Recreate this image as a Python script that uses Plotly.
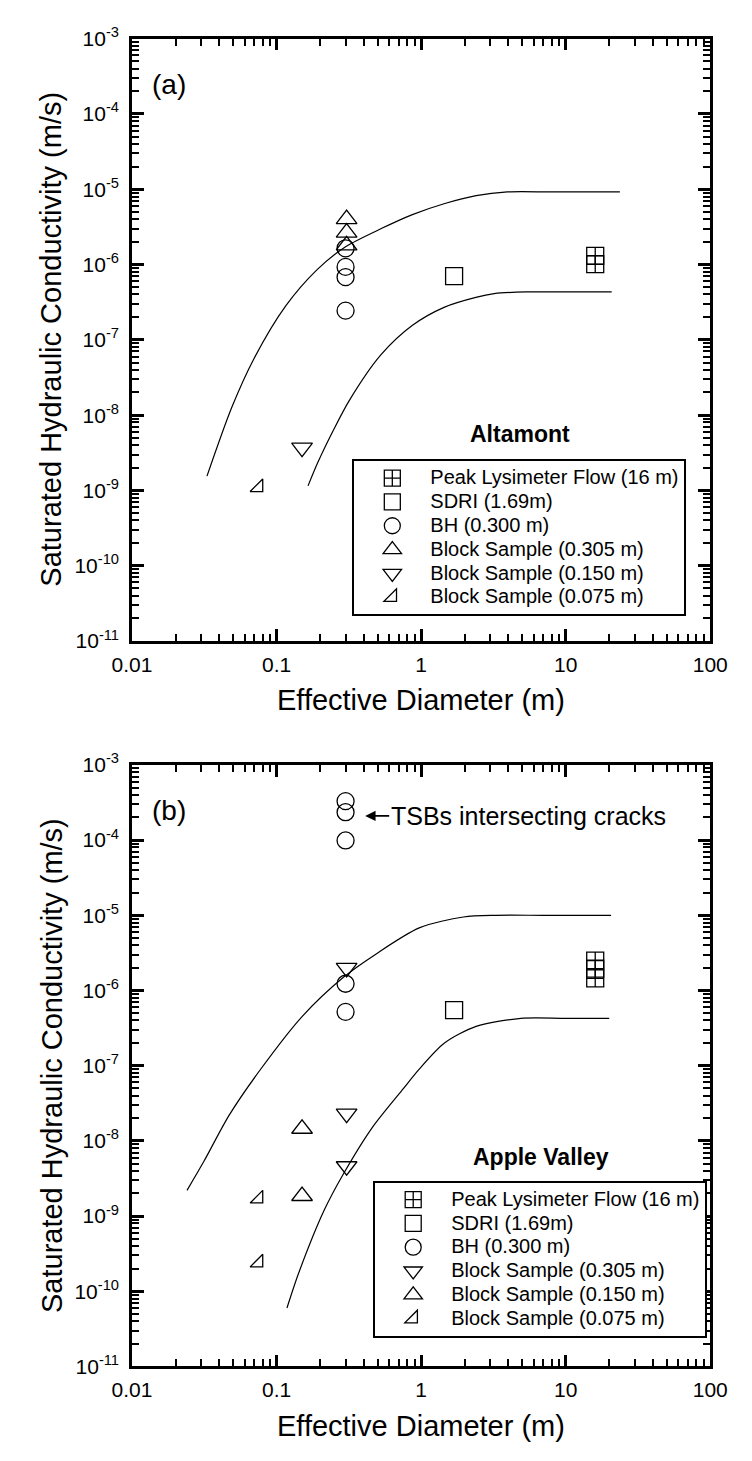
import numpy as np
import plotly.graph_objects as go

# ---------------- data ----------------
# Panel (a) Altamont
a_lys_x = [16, 16]
a_lys_y = [1.30e-6, 1.01e-6]
a_sdri_x = [1.69]
a_sdri_y = [7.0e-7]
a_bh_x = [0.30, 0.30, 0.30, 0.30]
a_bh_y = [1.64e-6, 9.3e-7, 6.8e-7, 2.44e-7]
a_b305_x = [0.305, 0.305, 0.305]
a_b305_y = [4.0e-6, 2.65e-6, 1.8e-6]
a_b150_x = [0.15]
a_b150_y = [3.7e-9]
a_b075_x = [0.075]
a_b075_y = [1.1e-9]
a_upper_x = [0.033, 0.049, 0.070, 0.116, 0.19, 0.30, 0.53, 0.87, 1.44, 2.4, 3.95, 8.0, 23.7]
a_upper_y = [1.55e-9, 1.27e-8, 5.7e-8, 2.84e-7, 8.5e-7, 1.72e-6, 3.0e-6, 4.6e-6, 6.4e-6, 8.2e-6, 9.2e-6, 9.2e-6, 9.2e-6]
a_lower_x = [0.165, 0.192, 0.247, 0.318, 0.526, 0.871, 1.44, 2.39, 3.2, 5.3, 10.0, 20.8]
a_lower_y = [1.15e-9, 2.31e-9, 6.3e-9, 1.56e-8, 6.3e-8, 1.56e-7, 2.7e-7, 3.66e-7, 4.1e-7, 4.33e-7, 4.33e-7, 4.33e-7]

# Panel (b) Apple Valley
b_lys_x = [16, 16, 16]
b_lys_y = [2.5e-6, 1.95e-6, 1.45e-6]
b_sdri_x = [1.69]
b_sdri_y = [5.5e-7]
b_bh_x = [0.30, 0.30, 0.30, 0.30, 0.30]
b_bh_y = [3.3e-4, 2.35e-4, 9.9e-5, 1.23e-6, 5.2e-7]
b_b305_x = [0.305, 0.305, 0.305]
b_b305_y = [2.0e-6, 2.3e-8, 4.6e-9]
b_b150_x = [0.15, 0.15]
b_b150_y = [1.45e-8, 1.85e-9]
b_b075_x = [0.075, 0.075]
b_b075_y = [1.7e-9, 2.4e-10]
b_upper_x = [0.024, 0.0315, 0.047, 0.078, 0.15, 0.29, 0.48, 0.97, 1.96, 3.3, 7.0, 20.6]
b_upper_y = [2.2e-9, 5.4e-9, 2.2e-8, 9.1e-8, 4.5e-7, 1.5e-6, 3.0e-6, 6.8e-6, 9.5e-6, 1.0e-5, 1.0e-5, 1.0e-5]
b_lower_x = [0.118, 0.143, 0.214, 0.289, 0.455, 0.753, 0.97, 1.45, 2.4, 4.9, 10.0, 20.0]
b_lower_y = [6.0e-11, 1.8e-10, 1.21e-9, 3.6e-9, 1.47e-8, 4.95e-8, 9.0e-8, 2.0e-7, 3.33e-7, 4.27e-7, 4.27e-7, 4.27e-7]

labels = ["Peak Lysimeter Flow (16 m)", "SDRI (1.69m)", "BH (0.300 m)",
          "Block Sample (0.305 m)", "Block Sample (0.150 m)", "Block Sample (0.075 m)"]

x_tickvals = [0.01, 0.1, 1, 10, 100]
x_ticktext = ["0.01", "0.1", "1", "10", "100"]
y_exps = [-3, -4, -5, -6, -7, -8, -9, -10, -11]

# ---------------- figure ----------------
W, H = 752, 1461
FONT = "Liberation Sans, Arial, sans-serif"
fig = go.Figure()


def leg_name(s):
    return '<span style="font-size:20px">%s</span>' % s


def markers(x, y, symbol, size, name, xa, ya, leg):
    fig.add_trace(go.Scatter(
        x=x, y=y, mode="markers", name=leg_name(name), xaxis=xa, yaxis=ya, legend=leg,
        marker=dict(symbol=symbol, size=size, color="black", line=dict(width=1.3)),
    ))


def curve(x, y, xa, ya):
    fig.add_trace(go.Scatter(
        x=x, y=y, mode="lines", xaxis=xa, yaxis=ya, showlegend=False,
        line=dict(color="black", width=1.2, shape="spline", smoothing=0.8),
    ))


curve(a_upper_x, a_upper_y, "x", "y")
curve(a_lower_x, a_lower_y, "x", "y")
markers(a_lys_x, a_lys_y, "square-cross-open", 17, labels[0], "x", "y", "legend")
markers(a_sdri_x, a_sdri_y, "square-open", 17, labels[1], "x", "y", "legend")
markers(a_bh_x, a_bh_y, "circle-open", 17, labels[2], "x", "y", "legend")
markers(a_b305_x, a_b305_y, "triangle-up-open", 18, labels[3], "x", "y", "legend")
markers(a_b150_x, a_b150_y, "triangle-down-open", 18, labels[4], "x", "y", "legend")
markers(a_b075_x, a_b075_y, "triangle-se-open", 14, labels[5], "x", "y", "legend")

curve(b_upper_x, b_upper_y, "x2", "y2")
curve(b_lower_x, b_lower_y, "x2", "y2")
markers(b_lys_x, b_lys_y, "square-cross-open", 17, labels[0], "x2", "y2", "legend2")
markers(b_sdri_x, b_sdri_y, "square-open", 17, labels[1], "x2", "y2", "legend2")
markers(b_bh_x, b_bh_y, "circle-open", 17, labels[2], "x2", "y2", "legend2")
markers(b_b305_x, b_b305_y, "triangle-down-open", 18, labels[3], "x2", "y2", "legend2")
markers(b_b150_x, b_b150_y, "triangle-up-open", 18, labels[4], "x2", "y2", "legend2")
markers(b_b075_x, b_b075_y, "triangle-se-open", 14, labels[5], "x2", "y2", "legend2")

# empty traces so the overlay (minor tick) axes exist
fig.add_trace(go.Scatter(x=[None], y=[None], xaxis="x3", yaxis="y3", showlegend=False, hoverinfo="skip"))
fig.add_trace(go.Scatter(x=[None], y=[None], xaxis="x4", yaxis="y4", showlegend=False, hoverinfo="skip"))

# minor tick positions in log10 units for the linear overlay axes
x_minor = [np.log10(k * 10.0 ** n) for n in range(-2, 2) for k in range(2, 10)]
y_minor = [np.log10(k * 10.0 ** n) for n in range(-11, -3) for k in range(2, 10)]

common = dict(
    type="log", showline=True, linecolor="black", linewidth=2.6, mirror="allticks",
    ticks="inside", ticklen=12, tickwidth=2.6, tickcolor="black", showgrid=False,
    zeroline=False, tickfont=dict(family=FONT, size=21, color="black"),
)
xcommon = dict(common, range=[-2, 2], tickvals=x_tickvals, ticktext=x_ticktext,
               ticklabelstandoff=3)
ycommon = dict(common, range=[-11, -3], tickvals=[10.0 ** e for e in y_exps],
               ticktext=["10<sup>%d</sup>" % e for e in y_exps], ticklabelstandoff=6)

over = dict(type="linear", showline=False, showgrid=False, zeroline=False,
            showticklabels=False, ticks="inside", ticklen=7, tickwidth=2.2,
            tickcolor="black", mirror="allticks", tickmode="array")

legend_style = dict(xanchor="left", yanchor="top", bordercolor="black", borderwidth=2,
                    bgcolor="white", font=dict(family=FONT, size=16, color="black"),
                    itemwidth=66, tracegroupgap=0)

xdom = [118 / W, 727 / W]
fig.update_layout(
    width=W, height=H, margin=dict(l=0, r=0, t=0, b=0),
    paper_bgcolor="white", plot_bgcolor="white",
    font=dict(family=FONT, color="black"),
    xaxis=dict(xcommon, domain=xdom, anchor="y"),
    yaxis=dict(ycommon, domain=[1 - 638 / H, 1 - 25 / H], anchor="x"),
    xaxis2=dict(xcommon, domain=xdom, anchor="y2"),
    yaxis2=dict(ycommon, domain=[1 - 1376 / H, 1 - 764 / H], anchor="x2"),
    xaxis3=dict(over, overlaying="x", anchor="y", range=[-2, 2], tickvals=x_minor),
    yaxis3=dict(over, overlaying="y", anchor="x", range=[-11, -3], tickvals=y_minor),
    xaxis4=dict(over, overlaying="x2", anchor="y2", range=[-2, 2], tickvals=x_minor),
    yaxis4=dict(over, overlaying="y2", anchor="x2", range=[-11, -3], tickvals=y_minor),
    legend=dict(legend_style, x=350 / W, y=1 - 453 / H),
    legend2=dict(legend_style, x=372 / W, y=1 - 1187 / H),
    showlegend=True,
)

ann = []
def txt(x, y, s, size, bold=False, angle=0, xanchor="center"):
    ann.append(dict(xref="paper", yref="paper", x=x / W, y=1 - y / H, text=("<b>%s</b>" % s) if bold else s,
                    showarrow=False, textangle=angle, xanchor=xanchor, yanchor="middle",
                    font=dict(family=FONT, size=size, color="black")))

txt(137, 72, "(a)", 28, xanchor="left")
txt(137, 810, "(b)", 28, xanchor="left")
txt(527, 427, "Altamont", 23, bold=True)
txt(549, 1163, "Apple Valley", 23, bold=True)
txt(33, 331, "Saturated Hydraulic Conductivity (m/s)", 29, angle=-90)
txt(33, 1070, "Saturated Hydraulic Conductivity (m/s)", 29, angle=-90)
txt(422, 698, "Effective Diameter (m)", 29)
txt(422, 1437, "Effective Diameter (m)", 29)

ann.append(dict(xref="x2", yref="y2", x=np.log10(0.41), y=np.log10(2.1e-4),
                text="TSBs intersecting cracks", showarrow=True, arrowhead=2,
                arrowsize=1.3, arrowwidth=1.6, arrowcolor="black", ax=163, ay=0,
                font=dict(family=FONT, size=25, color="black")))
fig.update_layout(annotations=ann)

fig.write_html("out.html")
